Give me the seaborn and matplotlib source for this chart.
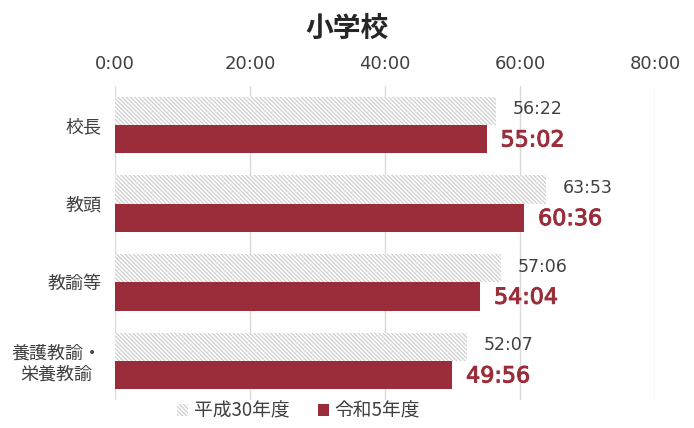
import pandas as pd
import seaborn as sns
import matplotlib.pyplot as plt
import matplotlib.patheffects as pe
from matplotlib.ticker import FuncFormatter, MultipleLocator
from matplotlib.patches import Patch

roles = ['校長', '教頭', '教諭等', '養護教諭・\n栄養教諭']
years = ['平成30年度', '令和5年度']
h30 = ['56:22', '63:53', '57:06', '52:07']
r5 = ['55:02', '60:36', '54:04', '49:56']


def to_min(s):
    m, sec = s.split(':')
    return int(m) + int(sec) / 60


df = pd.DataFrame({
    'role': roles * 2,
    'year': [years[0]] * 4 + [years[1]] * 4,
    'minutes': [to_min(v) for v in h30 + r5],
    'label': h30 + r5,
})

sns.set_style('white')
plt.rcParams['font.family'] = ['DejaVu Sans', 'Noto Sans CJK JP']
plt.rcParams['hatch.linewidth'] = 0.9

red = '#9a2d39'
hatch = '\\\\\\\\\\\\\\\\'
cjk = ['Noto Sans CJK JP', 'DejaVu Sans']
fig, ax = plt.subplots(figsize=(6.94, 4.28), dpi=100)
fig.subplots_adjust(left=0.166, right=0.944, top=0.80, bottom=0.065)

sns.barplot(data=df, y='role', x='minutes', hue='year', orient='h',
            palette={years[0]: 'white', years[1]: red}, width=0.72,
            saturation=1, legend=False, ax=ax)

# hatch the older series
for bar in ax.containers[0]:
    bar.set_hatch(hatch)
    bar.set_edgecolor('#cfcfcf')
    bar.set_linewidth(0)
for bar in ax.containers[1]:
    bar.set_linewidth(0)

for i, bar in enumerate(ax.containers[0]):
    ax.annotate(h30[i], (bar.get_width(), bar.get_y() + bar.get_height() / 2),
                xytext=(12, 1), textcoords='offset points', va='center',
                ha='left', fontsize=12.5, color='#404040')
for i, bar in enumerate(ax.containers[1]):
    ax.annotate(r5[i], (bar.get_width(), bar.get_y() + bar.get_height() / 2),
                xytext=(10, -1), textcoords='offset points', va='center',
                ha='left', fontsize=16, color=red,
                path_effects=[pe.withStroke(linewidth=0.7, foreground=red)])

ax.set_xlim(0, 80)
ax.set_ylim(3.5, -0.5)
ax.xaxis.set_major_locator(MultipleLocator(20))
ax.xaxis.set_major_formatter(FuncFormatter(lambda v, p: f'{int(v)}:00'))
ax.xaxis.tick_top()
ax.tick_params(axis='x', length=0, labelsize=13, colors='#404040', pad=9)
ax.tick_params(axis='y', length=0, labelsize=13, colors='#404040', pad=10)
for lab in ax.get_yticklabels():
    lab.set_multialignment('center')
    lab.set_family(cjk)
ax.grid(axis='x', color='#d9d9d9', linewidth=1)
ax.set_axisbelow(True)
for s in ax.spines.values():
    s.set_visible(False)
ax.set_xlabel('')
ax.set_ylabel('')

fig.suptitle('小学校', fontsize=20, fontweight='bold', y=0.965, family=cjk)

handles = [Patch(facecolor='white', edgecolor='#cfcfcf', hatch=hatch, linewidth=0),
           Patch(facecolor=red, linewidth=0)]
leg = fig.legend(handles, years, loc='lower center', bbox_to_anchor=(0.43, -0.025),
                 ncol=2, frameon=False, fontsize=13.5, handlelength=0.6,
                 handleheight=0.6, handletextpad=0.3, columnspacing=1.5,
                 labelcolor='#404040')
for t in leg.get_texts():
    t.set_family(cjk)

fig.savefig('out.png', dpi=100)
